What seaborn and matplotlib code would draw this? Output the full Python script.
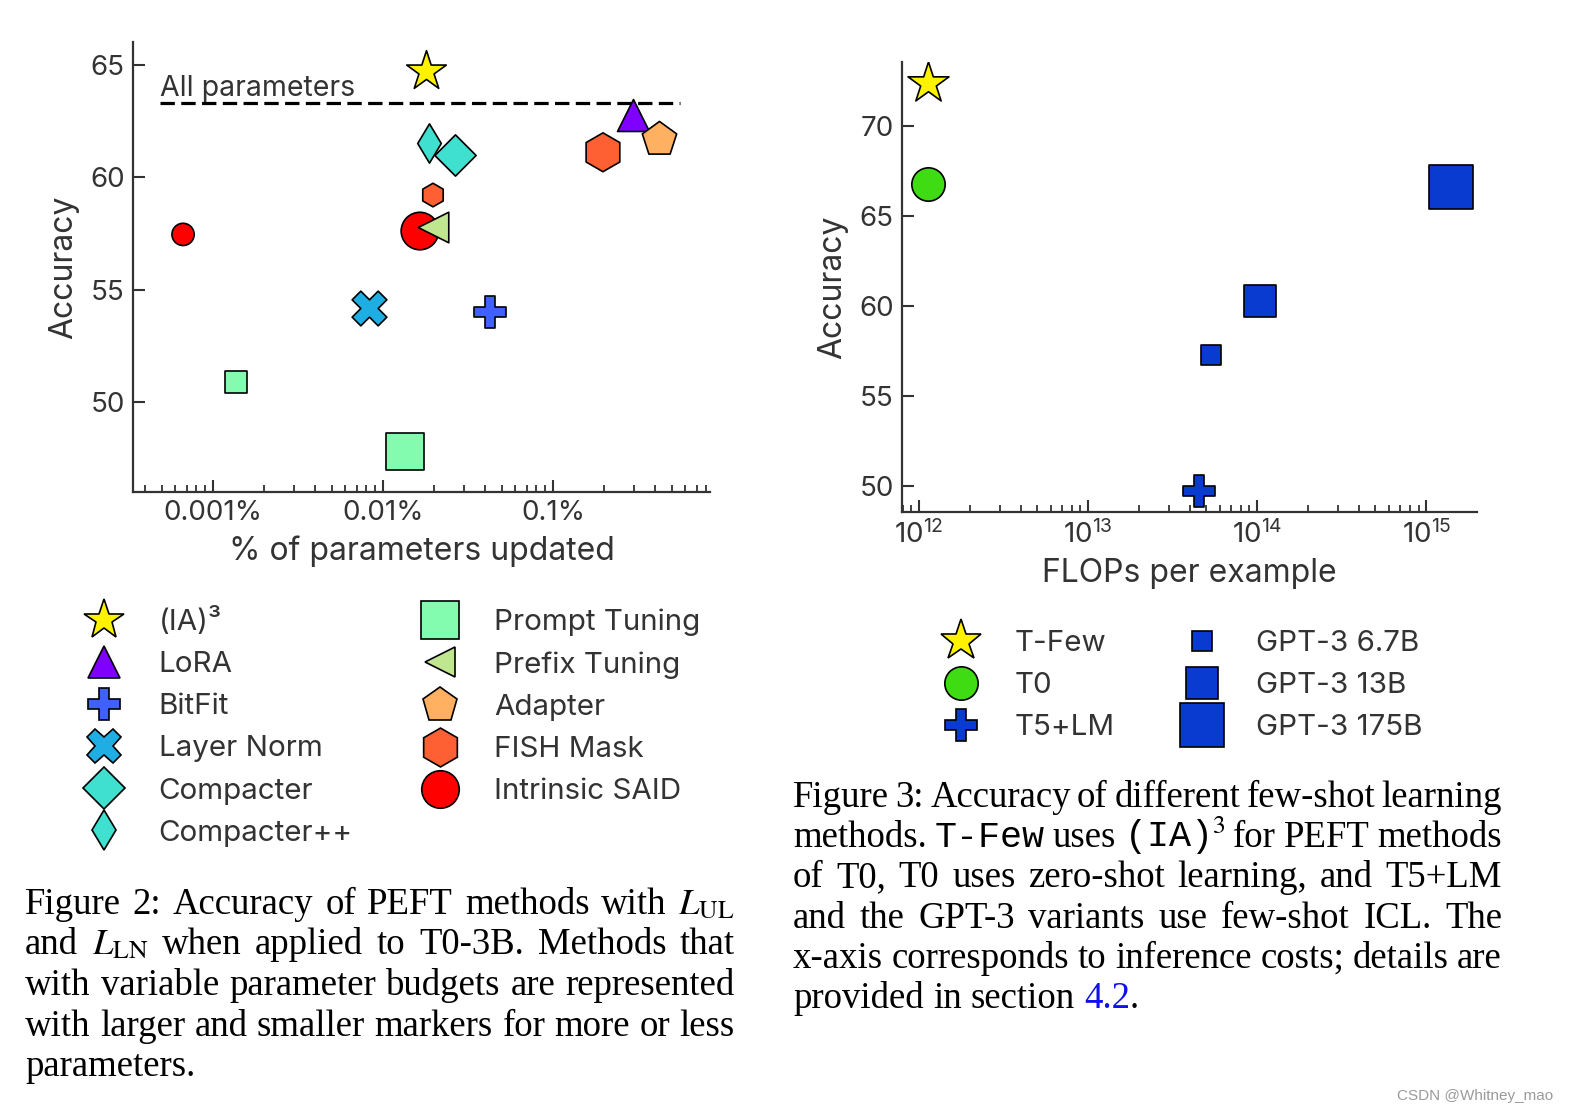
import numpy as np
import pandas as pd
import matplotlib.pyplot as plt
import seaborn as sns
from matplotlib.lines import Line2D
from matplotlib.ticker import FixedLocator, FuncFormatter, LogLocator, NullFormatter

sns.set_theme(style="ticks")
plt.rcParams["font.family"] = ["Inter", "DejaVu Sans"]
plt.rcParams["mathtext.fontset"] = "custom"
plt.rcParams["mathtext.rm"] = "Inter"
plt.rcParams["mathtext.it"] = "Inter:italic"

INK = "#333333"

# Figure 2: % of parameters updated vs accuracy (T0-3B)
peft_method = ["(IA)³", "LoRA", "BitFit", "Layer Norm", "Compacter++", "Compacter",
               "Prompt Tuning", "Prompt Tuning", "Intrinsic SAID", "Intrinsic SAID",
               "Prefix Tuning", "Adapter", "FISH Mask", "FISH Mask"]
peft_pct = [0.0179, 0.296, 0.0426, 0.00827, 0.0187, 0.0265,
            0.00136, 0.0135, 0.000667, 0.0165,
            0.0197, 0.42, 0.197, 0.0197]
peft_acc = [64.7, 62.75, 54.0, 54.2, 61.5, 61.0,
            50.9, 47.8, 57.45, 57.6,
            57.8, 61.7, 61.1, 59.2]
peft_budget = ["large", "large", "large", "large", "small", "large",
               "small", "large", "small", "large",
               "large", "large", "large", "small"]
all_params_acc = 63.3
all_params_span = [10 ** -3.31, 10 ** -0.253]

# Figure 3: inference FLOPs vs accuracy
icl_method = ["T-Few", "T0", "T5+LM", "GPT-3 6.7B", "GPT-3 13B", "GPT-3 175B"]
icl_flops = [1.13e12, 1.13e12, 4.5e13, 5.35e13, 1.04e14, 1.4e15]
icl_acc = [72.4, 66.8, 49.7, 57.3, 60.3, 66.6]

# marker, face colour, size (pt) for large / small budgets
PEFT_STYLE = {
    "(IA)³": ("*", "#fff200", 30, 30),
    "LoRA": ("^", "#7f00ff", 23, 23),
    "BitFit": ("P", "#4060ff", 23, 23),
    "Layer Norm": ("X", "#1eaee4", 25, 25),
    "Compacter": ("D", "#40e0d0", 21, 21),
    "Compacter++": ("d", "#40e0d0", 20, 20),
    "Prompt Tuning": ("s", "#84fcb0", 27, 16),
    "Prefix Tuning": ("<", "#c0e690", 22, 22),
    "Adapter": ("p", "#ffb060", 26, 26),
    "FISH Mask": ("h", "#ff6033", 28, 17),
    "Intrinsic SAID": ("o", "#ff0000", 27, 16),
}
PEFT_LEGEND = ["(IA)³", "LoRA", "BitFit", "Layer Norm", "Compacter", "Compacter++",
               "Prompt Tuning", "Prefix Tuning", "Adapter", "FISH Mask", "Intrinsic SAID"]
DRAW_ORDER = ["(IA)³", "LoRA", "BitFit", "Layer Norm", "Compacter++", "Compacter",
              "Prompt Tuning", "Intrinsic SAID", "Prefix Tuning", "Adapter", "FISH Mask"]

ICL_STYLE = {
    "T-Few": ("*", "#fff200", 31),
    "T0": ("o", "#3fdc14", 24),
    "T5+LM": ("P", "#0a3bd0", 23),
    "GPT-3 6.7B": ("s", "#0a3bd0", 14.5),
    "GPT-3 13B": ("s", "#0a3bd0", 23),
    "GPT-3 175B": ("s", "#0a3bd0", 32),
}

peft = pd.DataFrame({"method": peft_method, "pct": peft_pct, "acc": peft_acc, "budget": peft_budget})
icl = pd.DataFrame({"method": icl_method, "flops": icl_flops, "acc": icl_acc})


def style_axis(ax):
    sns.despine(ax=ax)
    for side in ["left", "bottom"]:
        ax.spines[side].set_color(INK)
        ax.spines[side].set_linewidth(1.6)
    ax.tick_params(which="major", direction="in", length=8.5, width=1.5, colors=INK,
                   labelsize=20, pad=6)
    ax.tick_params(which="minor", direction="in", length=5, width=1.3, colors=INK)
    ax.xaxis.set_minor_locator(LogLocator(base=10, subs=np.arange(2, 10), numticks=20))
    ax.xaxis.set_minor_formatter(NullFormatter())


def marker_handle(marker, color, size):
    return Line2D([], [], marker=marker, markersize=size, markerfacecolor=color,
                  markeredgecolor="black", markeredgewidth=1.2, linestyle="none")


def place_line(fig, pieces, x0, x1, y, justify=True, size=26.5):
    # pieces: (text, extra kwargs, glued to previous)
    renderer = fig.canvas.get_renderer()
    figw = fig.bbox.width
    arts = []
    for txt, kw, glued in pieces:
        props = dict(fontsize=size, family=["Liberation Serif", "DejaVu Serif"],
                     math_fontfamily="stix", color="black", va="baseline", ha="left")
        props.update(kw)
        t = fig.text(0, y, txt, **props)
        arts.append((t, t.get_window_extent(renderer).width, glued))
    total = sum(w for _, w, _ in arts)
    n_gaps = sum(1 for _, _, g in arts[1:] if not g)
    if justify and n_gaps:
        gap = ((x1 - x0) * figw - total) / n_gaps
    else:
        gap = 0.25 * size * fig.dpi / 72
    x = x0 * figw
    for i, (t, w, glued) in enumerate(arts):
        if i and not glued:
            x += gap
        t.set_x(x / figw)
        x += w


def words(s, **kw):
    return [(w, kw, False) for w in s.split()]


fig = plt.figure(figsize=(15.69, 11.15), dpi=100)
ax1 = fig.add_axes([0.0848, 0.5587, 0.3677, 0.4036])
ax2 = fig.add_axes([0.5749, 0.5408, 0.3665, 0.4036])

# ---- Figure 2 ----
ax1.set_xscale("log")
sns.lineplot(x=all_params_span, y=[all_params_acc] * 2, color="black", linewidth=2.3,
             linestyle=(0, (4.5, 2)), ax=ax1, zorder=2)
for method in DRAW_ORDER:
    sub = peft[peft["method"] == method]
    marker, color, big, small = PEFT_STYLE[method]
    sizes = np.where(sub["budget"] == "small", small, big) ** 2
    sns.scatterplot(data=sub, x="pct", y="acc", marker=marker, color=color, s=sizes,
                    edgecolor="black", linewidth=1.2, ax=ax1, legend=False, zorder=3)
ax1.text(all_params_span[0], all_params_acc + 0.3, "All parameters", fontsize=20.5,
         color=INK, ha="left", va="baseline")

ax1.set_xlim(10 ** -3.47, 10 ** -0.076)
ax1.set_ylim(46, 66)
ax1.xaxis.set_major_locator(FixedLocator([1e-3, 1e-2, 1e-1]))
ax1.xaxis.set_major_formatter(FuncFormatter(lambda v, p: f"{v:g}%"))
ax1.yaxis.set_major_locator(FixedLocator([50, 55, 60, 65]))
style_axis(ax1)
ax1.set_xlabel("% of parameters updated", fontsize=23, color=INK)
ax1.set_ylabel("Accuracy", fontsize=23, color=INK)
ax1.xaxis.set_label_coords(0.5, -0.097)
ax1.yaxis.set_label_coords(-0.093, 0.5)

# ---- Figure 3 ----
ax2.set_xscale("log")
for _, row in icl.iterrows():
    marker, color, size = ICL_STYLE[row["method"]]
    sns.scatterplot(x=[row["flops"]], y=[row["acc"]], marker=marker, color=color, s=size ** 2,
                    edgecolor="black", linewidth=1.2, ax=ax2, legend=False, zorder=3)
ax2.set_xlim(10 ** 11.9, 10 ** 15.3)
ax2.set_ylim(48.56, 73.56)
ax2.xaxis.set_major_locator(FixedLocator([1e12, 1e13, 1e14, 1e15]))
ax2.xaxis.set_major_formatter(FuncFormatter(lambda v, p: f"$10^{{{int(round(np.log10(v)))}}}$"))
ax2.yaxis.set_major_locator(FixedLocator([50, 55, 60, 65, 70]))
style_axis(ax2)
ax2.set_xlabel("FLOPs per example", fontsize=23, color=INK)
ax2.set_ylabel("Accuracy", fontsize=23, color=INK)
ax2.xaxis.set_label_coords(0.5, -0.102)
ax2.yaxis.set_label_coords(-0.093, 0.5)

# ---- legends ----
h1 = [marker_handle(PEFT_STYLE[m][0], PEFT_STYLE[m][1], PEFT_STYLE[m][2]) for m in PEFT_LEGEND]
leg1 = fig.legend(h1, PEFT_LEGEND, loc="upper left", bbox_to_anchor=(0.0512, 0.4554), ncol=2,
                  frameon=False, fontsize=21.3, handlelength=1.6, handletextpad=1.05,
                  columnspacing=2.13, labelspacing=0.51, borderpad=0, borderaxespad=0)
h2 = [marker_handle(*ICL_STYLE[m]) for m in icl_method]
leg2 = fig.legend(h2, icl_method, loc="upper left", bbox_to_anchor=(0.5974, 0.435), ncol=2,
                  frameon=False, fontsize=21.3, handlelength=1.6, handletextpad=1.02,
                  columnspacing=2.15, labelspacing=0.51, borderpad=0, borderaxespad=0)
for leg in (leg1, leg2):
    for t in leg.get_texts():
        t.set_color(INK)

# ---- captions ----
mono = {"family": ["Liberation Mono", "DejaVu Sans Mono"]}
L, R = 25 / 1569, 735 / 1569
cap2 = [
    (words("Figure 2: Accuracy of PEFT methods with") + [(r"$L_{\mathrm{UL}}$", {}, False)], True),
    (words("and") + [(r"$L_{\mathrm{LN}}$", {}, False)] + words("when applied to T0-3B. Methods that"), True),
    (words("with variable parameter budgets are represented"), True),
    (words("with larger and smaller markers for more or less"), True),
    (words("parameters."), False),
]
for i, (pieces, just) in enumerate(cap2):
    place_line(fig, pieces, L, R, 1 - (914 + 40.5 * i) / 1115, justify=just)

L3, R3 = 793 / 1569, 1502 / 1569
cap3 = [
    (words("Figure 3: Accuracy of different few-shot learning"), True),
    (words("methods.") + [("T-Few", mono, False)] + words("uses")
     + [("(IA)$^3$", mono, False)] + words("for PEFT methods"), True),
    (words("of T0, T0 uses zero-shot learning, and T5+LM"), True),
    (words("and the GPT-3 variants use few-shot ICL. The"), True),
    (words("x-axis corresponds to inference costs; details are"), True),
    (words("provided in section") + [("4.2", {"color": "#1010ee"}, False), (".", {}, True)], False),
]
for i, (pieces, just) in enumerate(cap3):
    place_line(fig, pieces, L3, R3, 1 - (807 + 40.2 * i) / 1115, justify=just)

fig.text(1553 / 1569, 1 - 1096 / 1115, "CSDN @Whitney_mao", fontsize=11, color="#9a9a9a",
         family=["Liberation Sans", "DejaVu Sans"], ha="right", va="center")

fig.savefig("out.png", dpi=100, facecolor="white")
